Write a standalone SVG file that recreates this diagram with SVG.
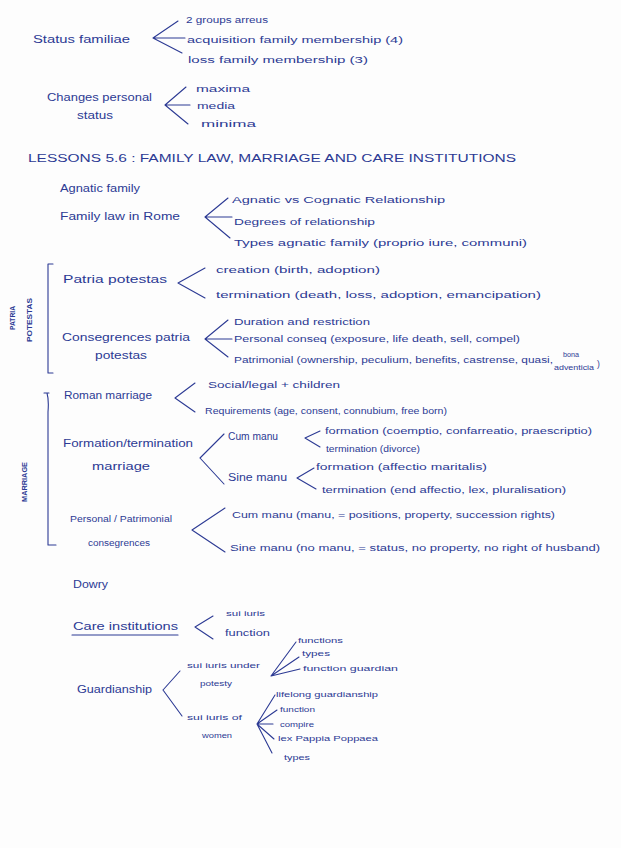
<svg xmlns="http://www.w3.org/2000/svg" width="621" height="848" viewBox="0 0 621 848">
<style>
text{font-family:"Liberation Sans",Arial,sans-serif;fill:#2c3a94;font-size:10px}
.s{font-size:8.5px}
.xs{font-size:7.5px}
.v{font-size:7px;font-weight:bold}
.c{stroke:#2c3a94;stroke-width:1.1;fill:none;stroke-linecap:round;stroke-linejoin:round}
</style>
<rect width="621" height="848" fill="#fdfdfd"/>
<g id="connectors">
<path class="c" d="M153,38 L178,21 M153,38 L185,38 M153,38 L182,53"/>
<path class="c" d="M165,105 L186,87 M165,105 L190,105 M165,105 L188,124"/>
<path class="c" d="M205,217 L228,198 M205,217 L232,217 M205,217 L230,238"/>
<path class="c" d="M53,264 L48,264 L48,373 L53,373"/>
<path class="c" d="M178,283 L205,268 M178,283 L205,298"/>
<path class="c" d="M205,339 L228,320 M205,339 L232,339 M205,339 L228,357"/>
<path class="c" d="M44,393 L49,393 M47,393 Q49,400 48,412 L48,545 L56,545"/>
<path class="c" d="M175,398 L195,383 M175,398 L195,412"/>
<path class="c" d="M200,458 L224,434 M200,458 L224,484"/>
<path class="c" d="M305,438 L320,431 M305,438 L320,447"/>
<path class="c" d="M297,478 L314,468 M297,478 L316,489"/>
<path class="c" d="M192,530 L225,508 M192,530 L225,552"/>
<path class="c" d="M72,635 L178,635"/>
<path class="c" d="M195,627 L213,616 M195,627 L213,639"/>
<path class="c" d="M271,676 L296,642 M271,676 L299,657 M271,676 L300,669"/>
<path class="c" d="M163,690 L180,671 M163,690 L182,716"/>
<path class="c" d="M257,724 L275,695 M257,724 L277,710 M257,724 L273,724 M257,724 L274,739 M257,724 L272,753"/>
</g>
<g id="status-familiae">
<text x="33" y="43" textLength="97" lengthAdjust="spacingAndGlyphs">Status familiae</text>
<text class="s" x="186" y="23" textLength="82" lengthAdjust="spacingAndGlyphs">2 groups arreus</text>
<text class="s" x="187" y="43" textLength="216" lengthAdjust="spacingAndGlyphs">acquisition family membership (4)</text>
<text class="s" x="188" y="63" textLength="180" lengthAdjust="spacingAndGlyphs">loss family membership (3)</text>
</g>
<g id="changes-personal-status">
<text x="47" y="101" textLength="105" lengthAdjust="spacingAndGlyphs">Changes personal</text>
<text x="77" y="119" textLength="36" lengthAdjust="spacingAndGlyphs">status</text>
<text class="s" x="196" y="92" textLength="54" lengthAdjust="spacingAndGlyphs">maxima</text>
<text class="s" x="197" y="109" textLength="38" lengthAdjust="spacingAndGlyphs">media</text>
<text class="s" x="201" y="127" textLength="55" lengthAdjust="spacingAndGlyphs">minima</text>
</g>
<g id="title">
<text x="28" y="162" textLength="488" lengthAdjust="spacingAndGlyphs">LESSONS 5.6 : FAMILY LAW, MARRIAGE AND CARE INSTITUTIONS</text>
</g>
<g id="agnatic-family">
<text x="60" y="192" textLength="80" lengthAdjust="spacingAndGlyphs">Agnatic family</text>
</g>
<g id="family-law-rome">
<text x="60" y="220" textLength="120" lengthAdjust="spacingAndGlyphs">Family law in Rome</text>
<text class="s" x="232" y="203" textLength="213" lengthAdjust="spacingAndGlyphs">Agnatic vs Cognatic Relationship</text>
<text class="s" x="234" y="225" textLength="141" lengthAdjust="spacingAndGlyphs">Degrees of relationship</text>
<text class="s" x="234" y="246" textLength="293" lengthAdjust="spacingAndGlyphs">Types agnatic family (proprio iure, communi)</text>
</g>
<g id="patria-potestas-label">
<text class="v" transform="translate(15,318) rotate(-90)" text-anchor="middle" textLength="24" lengthAdjust="spacingAndGlyphs">PATRIA</text>
<text class="v" transform="translate(32,320) rotate(-90)" text-anchor="middle" textLength="44" lengthAdjust="spacingAndGlyphs">POTESTAS</text>
</g>
<g id="patria-potestas">
<text x="63" y="283" textLength="104" lengthAdjust="spacingAndGlyphs">Patria potestas</text>
<text class="s" x="216" y="273" textLength="164" lengthAdjust="spacingAndGlyphs">creation (birth, adoption)</text>
<text class="s" x="216" y="298" textLength="325" lengthAdjust="spacingAndGlyphs">termination (death, loss, adoption, emancipation)</text>
</g>
<g id="consequences-patria-potestas">
<text x="62" y="341" textLength="128" lengthAdjust="spacingAndGlyphs">Consegrences patria</text>
<text x="95" y="359" textLength="52" lengthAdjust="spacingAndGlyphs">potestas</text>
<text class="s" x="234" y="325" textLength="136" lengthAdjust="spacingAndGlyphs">Duration and restriction</text>
<text class="s" x="234" y="342" textLength="286" lengthAdjust="spacingAndGlyphs">Personal conseq (exposure, life death, sell, compel)</text>
<text class="s" x="234" y="363" textLength="319" lengthAdjust="spacingAndGlyphs">Patrimonial (ownership, peculium, benefits, castrense, quasi,</text>
<text class="xs" x="563" y="357" textLength="16" lengthAdjust="spacingAndGlyphs">bona</text>
<text class="xs" x="554" y="370" textLength="40" lengthAdjust="spacingAndGlyphs">adventicia</text>
<text class="s" x="597" y="367">)</text>
</g>
<g id="marriage-label">
<text class="v" transform="translate(27,482) rotate(-90)" text-anchor="middle" textLength="40" lengthAdjust="spacingAndGlyphs">MARRIAGE</text>
</g>
<g id="roman-marriage">
<text x="64" y="399" textLength="88" lengthAdjust="spacingAndGlyphs">Roman marriage</text>
<text class="s" x="208" y="388" textLength="132" lengthAdjust="spacingAndGlyphs">Social/legal + children</text>
<text class="s" x="205" y="414" textLength="242" lengthAdjust="spacingAndGlyphs">Requirements (age, consent, connubium, free born)</text>
</g>
<g id="formation-termination">
<text x="63" y="447" textLength="130" lengthAdjust="spacingAndGlyphs">Formation/termination</text>
<text x="92" y="470" textLength="58" lengthAdjust="spacingAndGlyphs">marriage</text>
<text x="228" y="440" textLength="50" lengthAdjust="spacingAndGlyphs">Cum manu</text>
<text class="s" x="325" y="434" textLength="267" lengthAdjust="spacingAndGlyphs">formation (coemptio, confarreatio, praescriptio)</text>
<text class="s" x="326" y="452" textLength="94" lengthAdjust="spacingAndGlyphs">termination (divorce)</text>
<text x="228" y="481" textLength="59" lengthAdjust="spacingAndGlyphs">Sine manu</text>
<text class="s" x="316" y="470" textLength="171" lengthAdjust="spacingAndGlyphs">formation (affectio maritalis)</text>
<text class="s" x="322" y="493" textLength="244" lengthAdjust="spacingAndGlyphs">termination (end affectio, lex, pluralisation)</text>
</g>
<g id="personal-patrimonial">
<text class="s" x="70" y="522" textLength="102" lengthAdjust="spacingAndGlyphs">Personal / Patrimonial</text>
<text class="s" x="88" y="546" textLength="62" lengthAdjust="spacingAndGlyphs">consegrences</text>
<text class="s" x="232" y="518" textLength="323" lengthAdjust="spacingAndGlyphs">Cum manu (manu, = positions, property, succession rights)</text>
<text class="s" x="230" y="551" textLength="370" lengthAdjust="spacingAndGlyphs">Sine manu (no manu, = status, no property, no right of husband)</text>
</g>
<g id="dowry">
<text x="73" y="588" textLength="35" lengthAdjust="spacingAndGlyphs">Dowry</text>
</g>
<g id="care-institutions">
<text x="73" y="630" textLength="105" lengthAdjust="spacingAndGlyphs">Care institutions</text>
<text class="xs" x="226" y="616" textLength="39" lengthAdjust="spacingAndGlyphs">sui iuris</text>
<text class="s" x="225" y="636" textLength="45" lengthAdjust="spacingAndGlyphs">function</text>
</g>
<g id="sui-iuris-under-potesty">
<text class="xs" x="187" y="668" textLength="73" lengthAdjust="spacingAndGlyphs">sui iuris under</text>
<text class="xs" x="200" y="686" textLength="32" lengthAdjust="spacingAndGlyphs">potesty</text>
<text class="xs" x="298" y="643" textLength="45" lengthAdjust="spacingAndGlyphs">functions</text>
<text class="xs" x="302" y="656" textLength="28" lengthAdjust="spacingAndGlyphs">types</text>
<text class="xs" x="303" y="671" textLength="95" lengthAdjust="spacingAndGlyphs">function guardian</text>
</g>
<g id="guardianship">
<text x="77" y="693" textLength="75" lengthAdjust="spacingAndGlyphs">Guardianship</text>
</g>
<g id="sui-iuris-of-women">
<text class="xs" x="187" y="720" textLength="55" lengthAdjust="spacingAndGlyphs">sui iuris of</text>
<text class="xs" x="202" y="738" textLength="30" lengthAdjust="spacingAndGlyphs">women</text>
<text class="xs" x="276" y="697" textLength="102" lengthAdjust="spacingAndGlyphs">lifelong guardianship</text>
<text class="xs" x="280" y="712" textLength="35" lengthAdjust="spacingAndGlyphs">function</text>
<text class="xs" x="280" y="727" textLength="34" lengthAdjust="spacingAndGlyphs">compire</text>
<text class="xs" x="278" y="741" textLength="100" lengthAdjust="spacingAndGlyphs">lex Pappia Poppaea</text>
<text class="xs" x="284" y="760" textLength="26" lengthAdjust="spacingAndGlyphs">types</text>
</g>
</svg>
